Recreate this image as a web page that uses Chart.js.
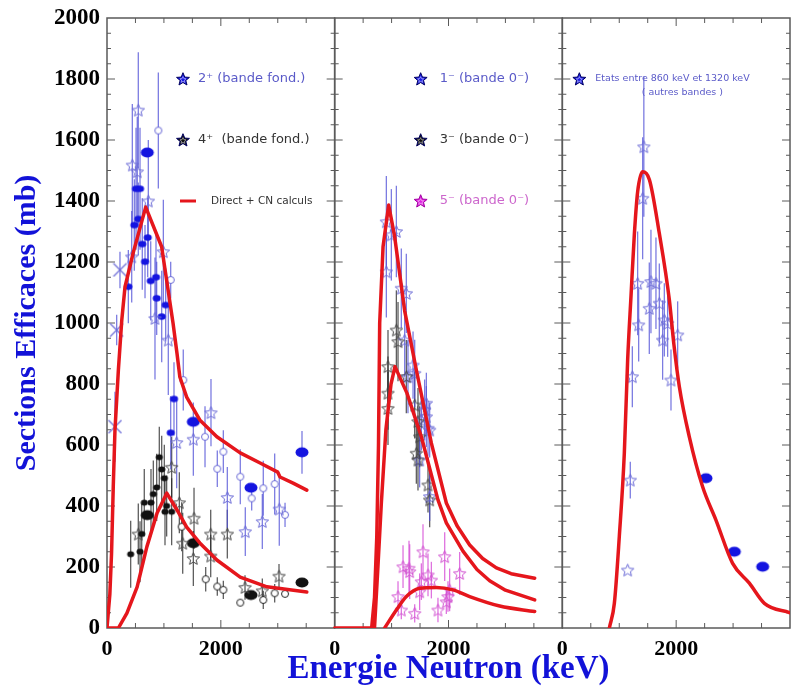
<!DOCTYPE html>
<html><head><meta charset="utf-8">
<script src="https://cdn.jsdelivr.net/npm/chart.js@4.4.0/dist/chart.umd.min.js"></script>
<style>html,body{margin:0;padding:0;background:#fff;}canvas{display:block;}</style>
</head><body>
<canvas id="c" width="792" height="692" style="width:792px;height:692px"></canvas>
<script>
// ===================== DATA =====================
// Each panel spans 0..4000 keV; panels are laid side by side on one axis.
const PANEL_SPAN = 4000;
const panelTickLabels = ['0', '2000'];          // tick labels repeated in every panel
const yTickStep = 200;

// ---- Panel 1 : 2+ (bande fond.)  [E keV, sigma mb, error mb]
const p1_2p_star  = [[550,1698,190],[445,1518,200],[532,1496,180],[726,1400,200],[434,1217,150],[990,1234,170],[843,1015,200],[1077,944,180],[1224,608,150],[1517,619,120],[1827,706,110],[2114,428,100],[2430,316,80],[2729,349,90],[3027,390,120]];
const p1_2p_dot   = [[375,1119,120],[480,1321,150],[510,1440,200],[580,1440,200],[550,1341,120],[620,1259,150],[668,1201,120],[715,1280,130],[768,1138,130],[861,1150,150],[873,1081,120],[961,1021,150],[1031,1059,120],[1177,751,120],[1119,640,120]];
const p1_2p_big   = [[708,1559,0],[1516,676,0],[2530,460,0],[3426,576,70]];
const p1_2p_ring  = [[902,1631,190],[1119,1141,60],[1340,813,100],[1722,627,100],[2044,578,70],[1938,522,60],[2342,496,90],[2542,425,40],[2746,458,90],[2946,472,100],[3128,371,40]];
const p1_2p_cross = [[140,660,115],[170,977,50],[228,1174,60]];
// ---- Panel 1 : 4+ (bande fond.)
const p1_4p_dot   = [[416,242,110],[580,250,100],[610,308,100],[655,411,110],[773,411,110],[814,439,110],[873,461,110],[919,560,100],[961,520,110],[1007,491,110],[1019,381,110],[1048,400,100],[1136,381,110]];
const p1_4p_star  = [[550,308,100],[1136,527,100],[1271,411,100],[1330,278,100],[1529,360,100],[1517,228,90],[1822,308,80],[2114,308,80],[1822,236,70],[3022,170,40],[2425,133,40],[2729,122,40]];
const p1_4p_big   = [[708,370,0],[1517,278,0],[2530,108,0],[3426,149,0]];
const p1_4p_ring  = [[1734,160,40],[1938,136,30],[2044,125,30],[2342,83,0],[2746,92,30],[2946,114,30],[3128,112,0],[1312,332,80]];
// ---- Panel 1 : calculations (Direct + CN)
const p1_calc_2p = [[0,0],[50,110],[80,245],[110,463],[140,649],[200,846],[260,1010],[316,1118],[460,1230],[680,1380],[960,1250],[1160,1000],[1230,900],[1280,823],[1400,757],[1630,682],[1930,627],[2340,574],[2690,541],[3000,511],[3040,495],[3270,475],[3510,452]];
const p1_calc_4p = [[0,0],[200,0],[350,49],[530,135],[700,266],[880,377],[1050,442],[1230,387],[1400,331],[1630,279],[1930,223],[2340,167],[2810,135],[3510,118]];

// ---- Panel 2 : 1-, 3-, 5- (bande 0-)
const p2_1m_star = [[908,1332,150],[996,1289,150],[1084,1300,150],[908,1168,150],[1171,1114,130],[1259,1097,130],[1230,944,120],[1288,824,120],[1377,862,110],[1406,835,110],[1523,682,100],[1581,715,100],[1640,655,90],[1611,737,100],[1611,693,100],[1669,649,90],[1493,551,90],[1669,431,80]];
const p2_3m_star = [[1084,977,130],[1113,939,130],[937,857,120],[937,770,120],[937,720,120],[1259,824,120],[1406,731,110],[1464,677,110],[1493,627,100],[1464,551,100],[1640,469,90],[1669,420,90],[1435,573,100]];
const p2_5m_star = [[1201,201,70],[1306,196,90],[1318,185,90],[1552,250,90],[1933,234,80],[2196,179,70],[1640,174,70],[1699,157,60],[1523,152,60],[2020,125,70],[1113,103,50],[1815,59,40],[1991,103,50],[1171,59,30],[1406,48,30],[1493,119,60],[1962,86,40]];
const p2_calc_1m = [[0,0],[650,0],[700,100],[740,300],[770,600],[791,1000],[850,1250],[949,1387],[1054,1283],[1230,1040],[1435,846],[1699,606],[1962,410],[2150,335],[2372,272],[2600,228],[2841,197],[3100,178],[3514,163]];
const p2_calc_3m = [[700,0],[760,200],[820,409],[900,650],[990,800],[1060,857],[1270,770],[1523,627],[1815,420],[1962,345],[2254,252],[2500,192],[2723,155],[3000,124],[3514,92]];
const p2_calc_5m = [[878,0],[1084,59],[1260,103],[1493,130],[1786,133],[2079,125],[2372,103],[2899,72],[3514,54]];

// ---- Panel 3 : Etats entre 860 keV et 1320 keV (autres bandes)
const p3_star = [[1432,1578,230],[1411,1409,200],[1323,1130,170],[1557,1136,170],[1645,1130,150],[1528,1048,150],[1704,1065,130],[1341,994,120],[1792,1010,120],[1850,999,110],[1762,944,130],[2026,961,110],[1230,824,100],[1909,813,100],[1194,485,60],[1148,190,0]];
const p3_big  = [[2524,491,0],[3022,250,0],[3520,201,0]];
const p3_calc = [[826,0],[914,81],[1001,300],[1089,573],[1148,880],[1207,1090],[1265,1290],[1323,1430],[1411,1496],[1530,1470],[1704,1294],[1880,1076],[1960,930],[2056,791],[2231,627],[2465,463],[2699,354],[2992,212],[3286,147],[3550,81],[4000,50]];

// ===================== MARKERS =====================
function starPath(g, cx, cy, R, r){
  g.beginPath();
  for(let i=0;i<10;i++){const a=-Math.PI/2+i*Math.PI/5;const rad=i%2?r:R;g.lineTo(cx+rad*Math.cos(a),cy+rad*Math.sin(a));}
  g.closePath();
}
function makeStar(color,R){
  const s=Math.ceil(2*R+4);const c=document.createElement('canvas');c.width=s;c.height=s;
  const g=c.getContext('2d');starPath(g,s/2,s/2+0.6,R,R*0.45);g.strokeStyle=color;g.lineWidth=1;g.stroke();return c;
}
function makeEllipse(fill,stroke,w,h){
  const c=document.createElement('canvas');c.width=w+3;c.height=h+3;const g=c.getContext('2d');
  g.beginPath();g.ellipse(c.width/2,c.height/2,w/2,h/2,0,0,Math.PI*2);
  if(fill){g.fillStyle=fill;g.fill();}
  if(stroke){g.strokeStyle=stroke;g.lineWidth=1;g.stroke();}
  return c;
}
function makeCross(color,s){
  const c=document.createElement('canvas');c.width=s+2;c.height=s+2;const g=c.getContext('2d');
  g.strokeStyle=color;g.lineWidth=1.2;g.beginPath();g.moveTo(1,1);g.lineTo(s+1,s+1);g.moveTo(s+1,1);g.lineTo(1,s+1);g.stroke();return c;
}
const BLUE='#1414e0', BLUE_LT='#6a6ad6', BLACK='#111', MAG='#d050d0';
const mk = {
  blueStar: makeStar(BLUE_LT,6.5), blackStar: makeStar('#444',6.5), magStar: makeStar(MAG,6.5),
  blueDot: makeEllipse(BLUE,null,8,6.5), blueBig: makeEllipse(BLUE,null,13,10),
  blueRing: makeEllipse('#fff',BLUE_LT,7,7), blueCross: makeCross(BLUE_LT,13),
  blackDot: makeEllipse(BLACK,null,7,6), blackBig: makeEllipse(BLACK,null,13,10),
  blackRing: makeEllipse('#fff','#222',7,7)
};
const ERR_BLUE='rgba(80,80,215,0.75)', ERR_BLACK='rgba(40,40,40,0.75)', ERR_MAG='rgba(215,80,215,0.8)';

function pts(arr,panel){return arr.map(d=>({x:d[0]+panel*PANEL_SPAN,y:d[1]}));}
function errs(arr){return arr.map(d=>d[2]||0);}
function markerSet(arr,panel,style,errColor){
  return {type:'scatter',data:pts(arr,panel),errors:errs(arr),errColor:errColor,pointStyle:style,
    pointRadius:5,showLine:false,order:2};
}
function curve(arr,panel,smooth){
  const ds={type:'line',data:pts(arr,panel),borderColor:'#e5161c',borderWidth:3.5,pointRadius:0,
    tension:0,fill:false,order:0,borderJoinStyle:'round',borderCapStyle:'round'};
  if(smooth){ds.cubicInterpolationMode='monotone';}
  return ds;
}

const datasets = [
  curve(p1_calc_2p,0), curve(p1_calc_4p,0),
  curve(p2_calc_1m,1), curve(p2_calc_3m,1), curve(p2_calc_5m,1,true),
  curve(p3_calc,2,true),
  markerSet(p1_4p_dot,0,mk.blackDot,ERR_BLACK), markerSet(p1_4p_star,0,mk.blackStar,ERR_BLACK),
  markerSet(p1_4p_big,0,mk.blackBig,ERR_BLACK), markerSet(p1_4p_ring,0,mk.blackRing,ERR_BLACK),
  markerSet(p1_2p_star,0,mk.blueStar,ERR_BLUE), markerSet(p1_2p_dot,0,mk.blueDot,ERR_BLUE),
  markerSet(p1_2p_big,0,mk.blueBig,ERR_BLUE), markerSet(p1_2p_ring,0,mk.blueRing,ERR_BLUE),
  markerSet(p1_2p_cross,0,mk.blueCross,ERR_BLUE),
  markerSet(p2_3m_star,1,mk.blackStar,ERR_BLACK), markerSet(p2_1m_star,1,mk.blueStar,ERR_BLUE),
  markerSet(p2_5m_star,1,mk.magStar,ERR_MAG),
  markerSet(p3_star,2,mk.blueStar,ERR_BLUE), markerSet(p3_big,2,mk.blueBig,ERR_BLUE)
];

// ===================== PLUGINS =====================
const framePlugin = {
  id:'frame',
  beforeDatasetsDraw(chart){
    const {ctx,chartArea:{top,bottom}}=chart;const xs=chart.scales.x, ys=chart.scales.y;
    ctx.save();
    chart.data.datasets.forEach((ds,i)=>{
      if(!ds.errors)return;const meta=chart.getDatasetMeta(i);
      ctx.strokeStyle=ds.errColor;ctx.lineWidth=1.3;
      meta.data.forEach((el,j)=>{const e=ds.errors[j];if(!e)return;const v=ds.data[j].y;
        ctx.beginPath();ctx.moveTo(el.x,ys.getPixelForValue(v+e));ctx.lineTo(el.x,ys.getPixelForValue(Math.max(0,v-e)));ctx.stroke();});
    });
    ctx.strokeStyle='#5a5a5a';
    for(let p=0;p<3;p++){
      const L=xs.getPixelForValue(p*PANEL_SPAN), R=xs.getPixelForValue((p+1)*PANEL_SPAN);
      ctx.lineWidth=1.5;ctx.strokeRect(L,top,R-L,bottom-top);
      ctx.lineWidth=1;ctx.beginPath();
      for(let v=500;v<PANEL_SPAN;v+=500){const x=xs.getPixelForValue(p*PANEL_SPAN+v);const len=(v%2000===0)?8:5;
        ctx.moveTo(x,top);ctx.lineTo(x,top+len);ctx.moveTo(x,bottom);ctx.lineTo(x,bottom-len);}
      for(let s=50;s<2000;s+=50){const y=ys.getPixelForValue(s);const len=(s%200===0)?8:4;
        ctx.moveTo(L,y);ctx.lineTo(L+len,y);ctx.moveTo(R,y);ctx.lineTo(R-len,y);}
      ctx.stroke();
    }
    ctx.restore();
  }
};

const legendEntries = [
  {E:1335,  s:1800, mark:'#1a1ae6', text:'2⁺ (bande fond.)', tE:1599, color:'#5a5ac8', font:'13px "DejaVu Sans"'},
  {E:1335,  s:1600, mark:'#111',    text:'4⁺  (bande fond.)', tE:1599, color:'#333', font:'13px "DejaVu Sans"'},
  {line:[1283,1564], s:1400, text:'Direct + CN calculs', tE:1827, color:'#333', font:'10.5px "DejaVu Sans"'},
  {E:5511,  s:1800, mark:'#1a1ae6', text:'1⁻ (bande 0⁻)', tE:5845, color:'#5a5ac8', font:'13px "DejaVu Sans"'},
  {E:5511,  s:1600, mark:'#111',    text:'3⁻ (bande 0⁻)', tE:5845, color:'#333', font:'13px "DejaVu Sans"'},
  {E:5511,  s:1400, mark:'#e020e0', text:'5⁻ (bande 0⁻)', tE:5845, color:'#cc66cc', font:'13px "DejaVu Sans"'},
  {E:8299,  s:1800, mark:'#1a1ae6', text:'Etats entre 860 keV et 1320 keV', tE:8580, color:'#5a5ac8', font:'9.5px "DejaVu Sans"'},
  {text:'( autres bandes )', cE:10108, s:1757, color:'#5a5ac8', font:'9.5px "DejaVu Sans"'}
];
const legendPlugin = {
  id:'legendText',
  afterDraw(chart){
    const {ctx}=chart;const xs=chart.scales.x, ys=chart.scales.y;ctx.save();
    legendEntries.forEach(it=>{
      const y=ys.getPixelForValue(it.s);
      if(it.mark){const x=xs.getPixelForValue(it.E);starPath(ctx,x,y+0.5,6.8,3.0);ctx.fillStyle=it.mark;ctx.fill();
        ctx.strokeStyle=it.mark==='#e020e0'?'#a000a0':'#000060';ctx.lineWidth=1;ctx.stroke();
        starPath(ctx,x,y+0.8,3.2,1.5);ctx.strokeStyle='rgba(255,255,255,0.6)';ctx.lineWidth=0.8;ctx.stroke();}
      if(it.line){ctx.strokeStyle='#e5161c';ctx.lineWidth=3;ctx.beginPath();ctx.moveTo(xs.getPixelForValue(it.line[0]),y);ctx.lineTo(xs.getPixelForValue(it.line[1]),y);ctx.stroke();}
      ctx.font=it.font;ctx.fillStyle=it.color;ctx.textBaseline='middle';
      if(it.cE!==undefined){ctx.textAlign='center';ctx.fillText(it.text,xs.getPixelForValue(it.cE),y);}
      else{ctx.textAlign='left';ctx.fillText(it.text,xs.getPixelForValue(it.tE),y);}
    });
    ctx.restore();
  }
};

new Chart(document.getElementById('c'),{
  data:{datasets},
  options:{
    responsive:false,animation:false,devicePixelRatio:1,
    layout:{autoPadding:false,padding:{top:18,right:2,left:0,bottom:0}},
    plugins:{legend:{display:false},tooltip:{enabled:false}},
    scales:{
      x:{type:'linear',min:0,max:3*PANEL_SPAN,
        afterFit(s){s.height=64;s.paddingLeft=0;s.paddingRight=0;},
        grid:{display:false},border:{display:false},
        afterBuildTicks(s){const t=[];for(let p=0;p<3;p++){t.push({value:p*PANEL_SPAN},{value:p*PANEL_SPAN+2000});}s.ticks=t;},
        ticks:{autoSkip:false,maxRotation:0,padding:0,color:'#000',font:{family:'"Liberation Serif"',weight:'bold',size:22},
          callback(v){const r=v%PANEL_SPAN;return r===0?panelTickLabels[0]:panelTickLabels[1];}},
        title:{display:true,text:'Energie Neutron (keV)',color:'#1212d8',align:'center',
          font:{family:'"Liberation Serif"',weight:'bold',size:33},padding:{top:0,bottom:3}}
      },
      y:{min:0,max:2000,
        afterFit(s){s.width=107;s.paddingTop=0;s.paddingBottom=0;},
        grid:{display:false,drawTicks:false},border:{display:false},
        ticks:{stepSize:yTickStep,padding:7,color:'#000',font:{family:'"Liberation Serif"',weight:'bold',size:23},
          callback(v){return String(v);}},
        title:{display:true,text:'Sections Efficaces (mb)',color:'#1212d8',
          font:{family:'"Liberation Serif"',weight:'bold',size:30},padding:{top:9,bottom:0}}
      }
    }
  },
  plugins:[framePlugin,legendPlugin]
});
</script>
</body></html>
